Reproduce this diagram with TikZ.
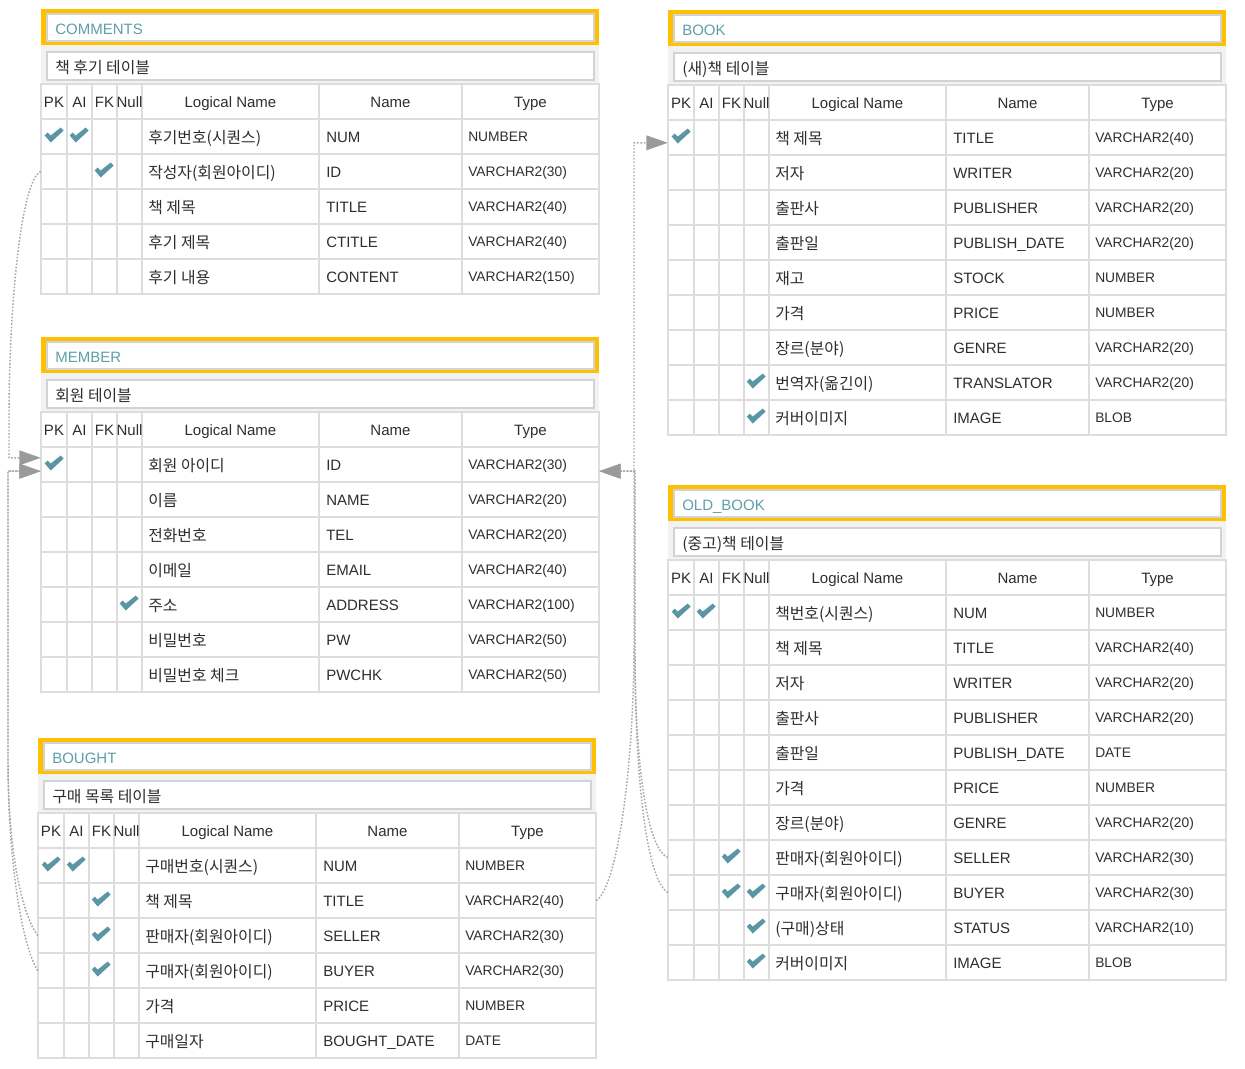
\documentclass[tikz,border=0pt]{standalone}
\usepackage{fontspec}
\setmainfont{Liberation Sans}
\newfontfamily\kr{Noto Sans CJK KR}
\usetikzlibrary{arrows.meta}
\definecolor{bandorange}{HTML}{FFC000}
\definecolor{bandgray}{HTML}{F2F2F2}
\definecolor{gridgray}{HTML}{DDDDDD}
\definecolor{boxgray}{HTML}{D3D3D3}
\definecolor{titleteal}{HTML}{5F9EAA}
\definecolor{checkteal}{HTML}{5A96A4}
\definecolor{inkgray}{HTML}{2E2E2E}
\definecolor{linkgray}{HTML}{A6A6A6}
\definecolor{tipgray}{HTML}{9A9A9A}
\newcommand{\korfont}{\kr\fontsize{11.9}{14}\selectfont}

% #1 id, #2 left, #3 top, #4 table name, #5 comment, #6 rows, #7 checks (column/row)
\newcommand{\erdtable}[7]{%
  \fill[bandgray] (#2,#3+36) rectangle (#2+558,#3+75);
  \fill[bandorange] (#2,#3) rectangle (#2+558,#3+36);
  \draw[boxline] (#2+6,#3+4.5) rectangle (#2+553,#3+32);
  \draw[boxline] (#2+6,#3+42.5) rectangle (#2+553,#3+70.5);
  \node[titletext] (#1-title) at (#2+14,#3+25.5) {#4};
  \node[kortext] (#1-comment) at (#2+14,#3+64.3) {#5};
  \draw[gridline] (#2,#3+75) rectangle (#2+558,#3+110);
  \foreach \cx in {26,51,76,101,278,421}
    \draw[gridline] (#2+\cx,#3+75) -- (#2+\cx,#3+110);
  \foreach \hd/\hx [count=\j] in {PK/13,AI/38.5,FK/63.5,Null/88.5,Logical Name/189.5,Name/349.5,Type/489.5}
    \node[headtext] (#1-h\j) at (#2+\hx,#3+98) {\hd};
  \foreach \lname/\cname/\ctype [count=\i] in {#6} {
    \pgfmathsetmacro\rtop{#3+75+35*\i}
    \draw[gridline] (#2,\rtop) rectangle (#2+558,\rtop+35);
    \foreach \cx in {26,51,76,101,278,421}
      \draw[gridline] (#2+\cx,\rtop) -- (#2+\cx,\rtop+35);
    \node[rowbox] (#1-r\i) at (#2+279,\rtop+17.5) {};
    \node[kortext] (#1-l\i) at (#2+107,\rtop+24.2) {\lname};
    \node[celltext] (#1-n\i) at (#2+285,\rtop+23) {\cname};
    \node[typetext] (#1-t\i) at (#2+427,\rtop+22.4) {\ctype};
  }
  \foreach \c/\r in {#7}
    \path (#1-r\r.west) ++(25*\c-12,0) pic {chk};
}

\begin{document}
\begin{tikzpicture}[x=0.75pt,y=-0.75pt,
    gridline/.style={draw=gridgray,line width=1.5pt},
    boxline/.style={draw=boxgray,fill=white,line width=1.5pt},
    titletext/.style={anchor=base west,inner sep=0,text=titleteal,font=\fontsize{11.25}{13}\selectfont},
    celltext/.style={anchor=base west,inner sep=0,text=inkgray,font=\fontsize{11.25}{13}\selectfont},
    kortext/.style={celltext,font=\korfont},
    typetext/.style={celltext,font=\fontsize{10.35}{12}\selectfont},
    headtext/.style={anchor=base,inner sep=0,text=inkgray,font=\fontsize{11.25}{13}\selectfont},
    rowbox/.style={inner sep=0,minimum width=418.5pt,minimum height=26.25pt},
    fkline/.style={draw=linkgray,line width=1.1pt,dash pattern=on 1.2pt off 1.3pt,
                   -{Triangle[length=16pt,width=11pt,color=tipgray]}},
    chk/.pic={\fill[checkteal] (-9,-1) -- (-6,-4) -- (-3,-1) -- (7,-9) -- (10,-6) -- (-3,6) -- cycle;}]
  \useasboundingbox (0,0) rectangle (1245,1068);

  \erdtable{cmt}{41}{9}{COMMENTS}{책 후기 테이블}
    {후기번호(시퀀스)/NUM/NUMBER, 작성자(회원아이디)/ID/VARCHAR2(30),
     책 제목/TITLE/VARCHAR2(40), 후기 제목/CTITLE/VARCHAR2(40),
     후기 내용/CONTENT/VARCHAR2(150)}
    {1/1, 2/1, 3/2}
  \erdtable{mem}{41}{337}{MEMBER}{회원 테이블}
    {회원 아이디/ID/VARCHAR2(30), 이름/NAME/VARCHAR2(20),
     전화번호/TEL/VARCHAR2(20), 이메일/EMAIL/VARCHAR2(40),
     주소/ADDRESS/VARCHAR2(100), 비밀번호/PW/VARCHAR2(50),
     비밀번호 체크/PWCHK/VARCHAR2(50)}
    {1/1, 4/5}
  \erdtable{bgt}{38}{738}{BOUGHT}{구매 목록 테이블}
    {구매번호(시퀀스)/NUM/NUMBER, 책 제목/TITLE/VARCHAR2(40),
     판매자(회원아이디)/SELLER/VARCHAR2(30), 구매자(회원아이디)/BUYER/VARCHAR2(30),
     가격/PRICE/NUMBER, 구매일자/BOUGHT\_DATE/DATE}
    {1/1, 2/1, 3/2, 3/3, 3/4}
  \erdtable{book}{668}{10}{BOOK}{(새)책 테이블}
    {책 제목/TITLE/VARCHAR2(40), 저자/WRITER/VARCHAR2(20),
     출판사/PUBLISHER/VARCHAR2(20), 출판일/PUBLISH\_DATE/VARCHAR2(20),
     재고/STOCK/NUMBER, 가격/PRICE/NUMBER, 장르(분야)/GENRE/VARCHAR2(20),
     번역자(옮긴이)/TRANSLATOR/VARCHAR2(20), 커버이미지/IMAGE/BLOB}
    {1/1, 4/8, 4/9}
  \erdtable{old}{668}{485}{OLD\_BOOK}{(중고)책 테이블}
    {책번호(시퀀스)/NUM/NUMBER, 책 제목/TITLE/VARCHAR2(40),
     저자/WRITER/VARCHAR2(20), 출판사/PUBLISHER/VARCHAR2(20),
     출판일/PUBLISH\_DATE/DATE, 가격/PRICE/NUMBER, 장르(분야)/GENRE/VARCHAR2(20),
     판매자(회원아이디)/SELLER/VARCHAR2(30), 구매자(회원아이디)/BUYER/VARCHAR2(30),
     (구매)상태/STATUS/VARCHAR2(10), 커버이미지/IMAGE/BLOB}
    {1/1, 2/1, 3/8, 3/9, 4/9, 4/10, 4/11}

  % foreign keys
  \coordinate (laneA) at (9,420);
  \coordinate (laneB) at (8,760);
  \coordinate (laneC) at (634,640);
  \coordinate (laneD) at (635,650);
  \draw[fkline] (cmt-r2.west) .. controls +(-19,8) and +(0,-120) .. (laneA) |- ([yshift=5pt]mem-r1.west);
  \draw[fkline] (bgt-r3.west) .. controls +(-16,-21) and +(0,90) .. (laneB) |- ([yshift=-5pt]mem-r1.west);
  \draw[fkline] (bgt-r4.west) .. controls +(-16,-25) and +(0,100) .. (laneB) |- ([yshift=-5pt]mem-r1.west);
  \draw[fkline] (bgt-r2.east) .. controls +(19,-11) and +(0,140) .. (laneC) |- ([yshift=-4pt]book-r1.west);
  \draw[fkline] (old-r8.west) .. controls +(-18,-7) and +(0,130) .. (laneD) |- ([yshift=-5pt]mem-r1.east);
  \draw[fkline] (old-r9.west) .. controls +(-18,-10) and +(0,150) .. (laneD) |- ([yshift=-5pt]mem-r1.east);
\end{tikzpicture}
\end{document}
